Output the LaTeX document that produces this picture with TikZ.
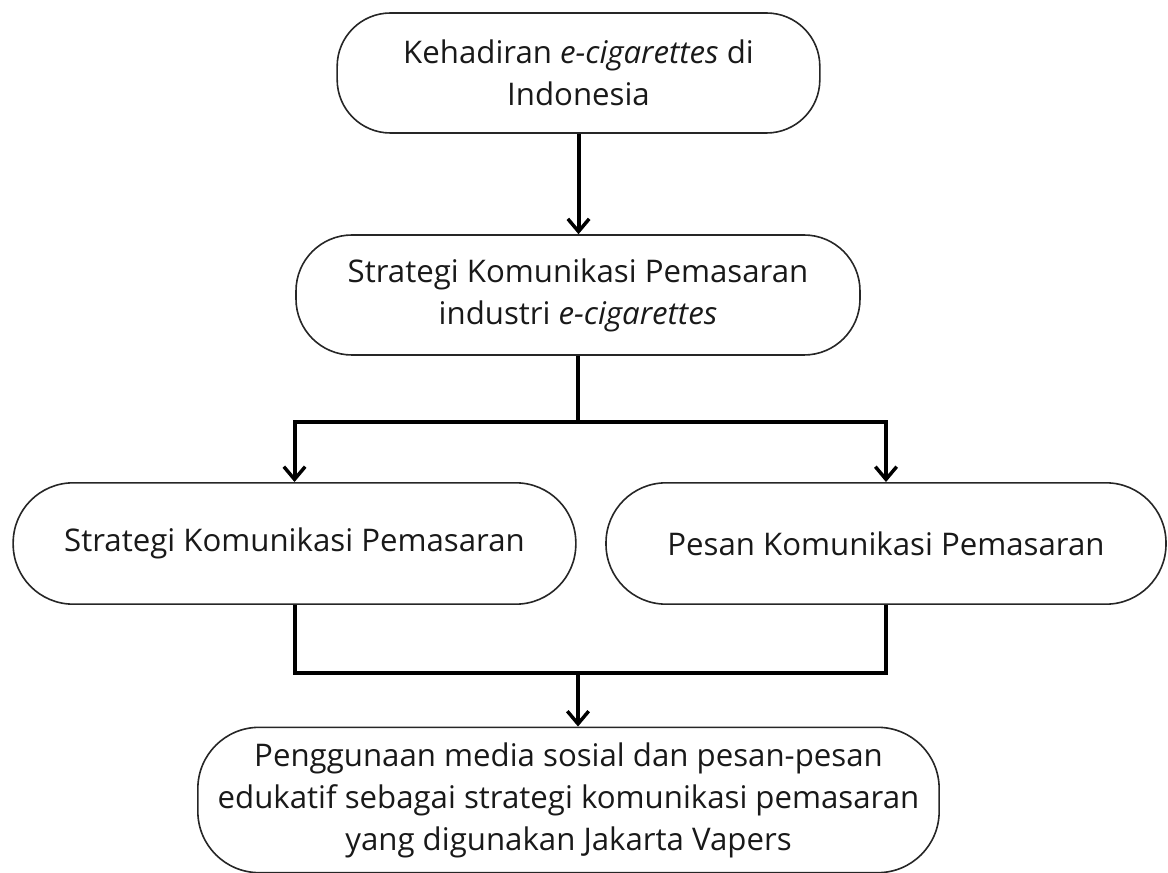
\documentclass[tikz,border=0pt]{standalone}
\usepackage{fontspec}
\setmainfont{Open Sans}
\usetikzlibrary{arrows.meta}
\begin{document}
\begin{tikzpicture}[x=0.75pt,y=-0.75pt,
  box/.style={draw=black!85, line width=1.2pt, inner sep=0pt, align=center,
    font=\fontsize{23.4}{31.5}\selectfont, text=black!90},
  conn/.style={line width=3pt, line join=miter, draw=black},
  arr/.style={conn, -{Straight Barb[length=9.5pt,width=16pt,line width=2.6pt]}}]
\useasboundingbox (0,0) rectangle (1168,873);
\node[box, rounded corners=40pt, minimum width=362pt, minimum height=90pt] (b1) at (578.5,73)
  {Kehadiran \textit{e-cigarettes} di\\Indonesia};
\node[box, rounded corners=42pt, minimum width=423pt, minimum height=90pt] (b2) at (578,295)
  {Strategi Komunikasi Pemasaran\\industri \textit{e-cigarettes}};
\node[box, rounded corners=45pt, minimum width=422pt, minimum height=91pt] (b3) at (294.5,543.5)
  {Strategi Komunikasi Pemasaran};
\node[box, rounded corners=45pt, minimum width=420pt, minimum height=91pt] (b4) at (886,543.5)
  {Pesan Komunikasi Pemasaran};
\node[box, rounded corners=46pt, minimum width=556pt, minimum height=109pt] (b5) at (568.5,800)
  {Penggunaan media sosial dan pesan-pesan\\edukatif sebagai strategi komunikasi pemasaran\\yang digunakan Jakarta Vapers};
\coordinate (j1) at (578,422);
\coordinate (j2) at (578,673);
\draw[arr] (b1.south) -- (b1.south |- b2.north);
\draw[conn] (b2.south) -- (j1);
\draw[arr] (j1) -| (b3.north);
\draw[arr] (j1) -| (b4.north);
\draw[conn] (b3.south) -- (b3.south |- j2) -- (b4.south |- j2) -- (b4.south);
\draw[arr] (j2) -- (j2 |- b5.north);
\end{tikzpicture}
\end{document}
